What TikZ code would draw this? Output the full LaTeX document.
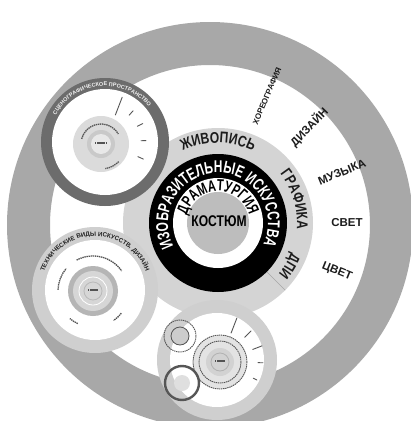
\documentclass[tikz,border=0pt]{standalone}
\usepackage{fontspec}
\setmainfont{Liberation Sans}
\newfontfamily\condfont[FakeStretch=0.78]{Liberation Sans}
\newfontfamily\narrowfont[FakeStretch=0.7]{Liberation Sans}
\usepackage{tikz}
\usetikzlibrary{calc, decorations.text}

\definecolor{ringgray}{HTML}{A8A8A8}
\definecolor{discgray}{HTML}{D4D4D4}
\definecolor{coregray}{HTML}{BDBDBD}
\definecolor{darkring}{HTML}{6C6C6C}
\definecolor{satgray}{HTML}{CFCFCF}
\definecolor{inkgray}{HTML}{1C1C1C}

\begin{document}
\begin{tikzpicture}[
    x=1pt, y=1pt,
    arclabel/.style={
        decorate,
        decoration={text along path, text align=center, text={#1}}
    },
    radlabel/.style={
        font=\bfseries\fontsize{11.5}{11.5}\selectfont,
        text=inkgray,
        inner sep=0pt
    },
    markline/.style={
        draw=inkgray!75,
        line width=0.9pt,
        line cap=round
    },
    fakeprint/.style={
        draw=gray!65!black,
        line width=1.3pt,
        dash pattern=on 1.4pt off 0.7pt
    }
]
% === Frame and outer ring ===
\useasboundingbox (0,0) rectangle (411,-421);
\fill[white] (0,0) rectangle (411,-421);
\clip (0,0) rectangle (411,-421);
\coordinate (O) at (210,-225);
\fill[ringgray, even odd rule] (O) circle[radius=203] (O) circle[radius=160];

% === Central medallion ===
\coordinate (C) at (218,-223);
\fill[discgray] (C) circle[radius=95];
\draw[gray!70, line width=0.6pt] ($(C)+(-45:69)$) -- ($(C)+(-45:95)$);
\fill[black] (C) circle[radius=69];
\fill[white] (C) circle[radius=45];
\fill[coregray] (C) circle[radius=31];

\path[arclabel={|\narrowfont\bfseries\fontsize{17}{17}\selectfont|ИЗОБРАЗИТЕЛЬНЫЕ ИСКУССТВА},
      decoration={text color=white}]
    ($(C)+(235:50)$) arc[start angle=235, end angle=-53, radius=50];
\path[arclabel={|\narrowfont\bfseries\fontsize{16}{16}\selectfont|ДРАМАТУРГИЯ},
      decoration={text color=black}]
    ($(C)+(185:32)$) arc[start angle=185, end angle=-5, radius=32];
\path[arclabel={|\condfont\bfseries\fontsize{15.5}{15.5}\selectfont|ЖИВОПИСЬ},
      decoration={text color=inkgray}]
    ($(C)+(135:80)$) arc[start angle=135, end angle=45, radius=80];
\path[arclabel={|\condfont\bfseries\fontsize{15.5}{15.5}\selectfont|ГРАФИКА},
      decoration={text color=inkgray}]
    ($(C)+(54:79)$) arc[start angle=54, end angle=-20, radius=79];
\path[arclabel={|\condfont\bfseries\fontsize{15}{15}\selectfont|ДПИ},
      decoration={text color=inkgray}]
    ($(C)+(-14:79)$) arc[start angle=-14, end angle=-48, radius=79];
\node[font=\condfont\bfseries\fontsize{15.5}{15.5}\selectfont, inner sep=0pt] (kostum) at (219,-221) {КОСТЮМ};

% === Labels in the white band ===
\node[radlabel, font=\bfseries\fontsize{8}{8}\selectfont, rotate=67] (choreo) at (267,-96) {ХОРЕОГРАФИЯ};
\node[radlabel, rotate=46] (design) at (309,-127) {ДИЗАЙН};
\node[radlabel, rotate=22] (music) at (342,-172) {МУЗЫКА};
\node[radlabel] (light) at (347,-223) {СВЕТ};
\node[radlabel, rotate=-22] (colour) at (337,-272) {ЦВЕТ};

% === Scenography satellite ===
\coordinate (S1) at (105,-142);
\coordinate (S1c) at (101,-144);
\fill[darkring] (S1) circle[radius=64];
\fill[white] (S1) circle[radius=53];
\path[arclabel={|\bfseries\fontsize{5.5}{5.5}\selectfont|СЦЕНОГРАФИЧЕСКОЕ ПРОСТРАНСТВО},
      decoration={text color=gray!12}]
    ($(S1)+(160:56)$) arc[start angle=160, end angle=30, radius=56];
\fill[gray!28] (S1c) circle[radius=28];
\draw[fakeprint] ($(S1c)+(165:20)$) arc[start angle=165, end angle=30, radius=20];
\draw[fakeprint] ($(S1c)+(-45:25)$) arc[start angle=-45, end angle=-80, radius=25];
\fill[gray!42] (S1c) circle[radius=14];
\fill[gray!18] (S1c) circle[radius=10];
\draw[fakeprint, line width=2.2pt] ($(S1c)+(-6,1)$) -- ($(S1c)+(6,1)$);
\foreach \a/\r/\R in {69/29/48, 48/36/42, 26/36/42, 2/36/41, -24/36/42}
    \draw[markline] ($(S1)+(\a:\r)$) -- ($(S1)+(\a:\R)$);

% === Technical arts satellite ===
\coordinate (S2) at (95,-290);
\coordinate (S2c) at (93,-291);
\fill[satgray] (S2) circle[radius=63];
\fill[white] (S2) circle[radius=50];
\path[arclabel={|\bfseries\fontsize{6.2}{6.2}\selectfont|ТЕХНИЧЕСКИЕ ВИДЫ ИСКУССТВ, ДИЗАЙН},
      decoration={text color=gray!25!black}]
    ($(S2)+(172:54)$) arc[start angle=172, end angle=8, radius=54];
\fill[gray!58] (S2c) circle[radius=25];
\fill[gray!32] (S2c) circle[radius=20];
\draw[white, line width=0.8pt] (S2c) circle[radius=14];
\draw[gray!55, line width=0.8pt] (S2c) circle[radius=9];
\draw[fakeprint, line width=1.8pt] ($(S2c)+(-5,1)$) -- ($(S2c)+(5,1)$);
\draw[fakeprint] ($(S2c)+(118:35)$) arc[start angle=118, end angle=35, radius=35];
\draw[fakeprint] ($(S2c)+(178:35)$) arc[start angle=178, end angle=140, radius=35];
\draw[fakeprint] ($(S2c)+(245:36)$) arc[start angle=245, end angle=230, radius=36];
\draw[fakeprint] ($(S2c)+(-38:36)$) arc[start angle=-38, end angle=-55, radius=36];

% === Lower satellite ===
\coordinate (S3) at (217,-360);
\coordinate (S3c) at (220,-362);
\coordinate (S3a) at (180,-336);
\coordinate (S3b) at (182,-383);
\fill[satgray] (S3) circle[radius=60];
\fill[white] (S3) circle[radius=47];
\fill[gray!22] (S3c) circle[radius=27];
\draw[fakeprint, line width=0.9pt] (S3c) circle[radius=27];
\draw[fakeprint, line width=0.9pt] (S3c) circle[radius=21];
\fill[gray!35] (S3c) circle[radius=14];
\draw[gray!60, line width=0.8pt] (S3c) circle[radius=9];
\draw[fakeprint, line width=1.6pt] ($(S3c)+(-5,1)$) -- ($(S3c)+(5,1)$);
\draw[fakeprint, line width=0.9pt] (S3a) circle[radius=16];
\fill[gray!40] (S3a) circle[radius=9];
\draw[gray!65!black, line width=0.8pt] (S3a) circle[radius=9];
\draw[darkring!80!black, line width=2.4pt] (S3b) circle[radius=17];
\fill[gray!25] (S3b) circle[radius=8];
\foreach \a/\r/\R in {69/31/47, 45/35/44, 21/35/45, -1/38/43, -26/37/41}
    \draw[markline] ($(S3c)+(\a:\r)$) -- ($(S3c)+(\a:\R)$);
\end{tikzpicture}
\end{document}
